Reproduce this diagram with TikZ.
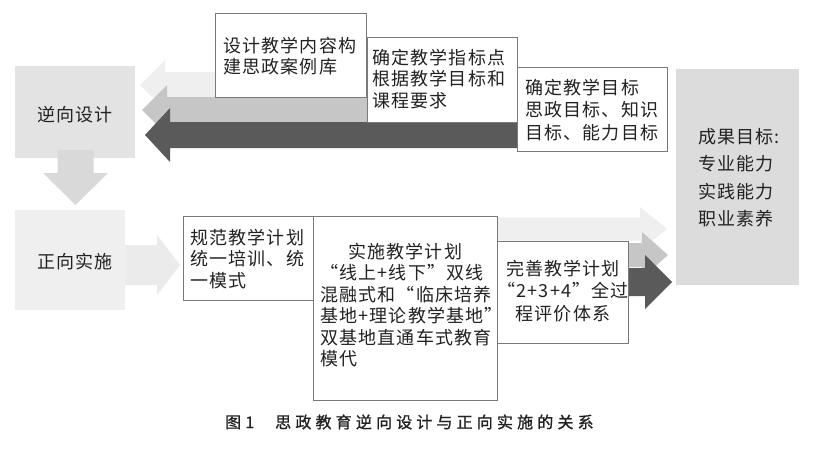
\documentclass[tikz,border=0pt]{standalone}
\usepackage{fontspec}
\newfontfamily\cjk[LetterSpace=6.5]{Noto Sans CJK SC}
\newfontfamily\capfont[LetterSpace=26,FakeBold=1.2]{Noto Sans CJK SC}
\definecolor{txtc}{HTML}{222222}
\definecolor{bord}{HTML}{7A7A7A}
\definecolor{nibox}{HTML}{E3E3E3}
\definecolor{zhbox}{HTML}{EFEFEF}
\definecolor{downc}{HTML}{D9D9D9}
\definecolor{zharr}{HTML}{EBEBEB}
\definecolor{lightc}{HTML}{EFEFEF}
\definecolor{medc}{HTML}{C6C6C6}
\definecolor{darkc}{HTML}{5A5A5A}
\definecolor{goalc}{HTML}{DCDCDC}
% left-pointing block arrow: colour, tip x, head back x, tail x, centre y, half shaft, half head
\newcommand\blockleft[7]{\fill[#1] (#2,#5) -- (#3,#5-#7) -- (#3,#5-#6) -- (#4,#5-#6) -- (#4,#5+#6) -- (#3,#5+#6) -- (#3,#5+#7) -- cycle;}
% right-pointing block arrow: colour, tail x, head back x, tip x, centre y, half shaft, half head
\newcommand\blockright[7]{\fill[#1] (#4,#5) -- (#3,#5-#7) -- (#3,#5-#6) -- (#2,#5-#6) -- (#2,#5+#6) -- (#3,#5+#6) -- (#3,#5+#7) -- cycle;}
\begin{document}
\begin{tikzpicture}[x=1pt,y=-1pt,
  wbox/.style={draw=bord, line width=0.8pt, fill=white, rectangle, inner sep=0pt, anchor=north west},
  gbox/.style={rectangle, inner sep=0pt, anchor=north west},
  txt/.style={font=\cjk\fontsize{18}{21.5}\selectfont, text=txtc, inner sep=0pt, align=left, anchor=north west},
  txtw/.style={font=\cjk\fontsize{18}{22.5}\selectfont, text=txtc, inner sep=0pt, align=left, anchor=north west}]
\useasboundingbox[fill=white] (0,0) rectangle (816,452);

% left column
\node[gbox, fill=nibox, minimum width=120pt, minimum height=92pt] (ni) at (15,66) {};
\node[font=\cjk\fontsize{18}{21.5}\selectfont, text=txtc, inner sep=0pt] (nit) at (75,115) {逆向设计};
\fill[downc] (57.5,150) -- (57.5,173) -- (43,173) -- (75.5,205) -- (108,173) -- (93.5,173) -- (93.5,150) -- cycle;
\node[gbox, fill=zhbox, minimum width=110pt, minimum height=100pt] (zh) at (15,210) {};
\node[font=\cjk\fontsize{18}{21.5}\selectfont, text=txtc, inner sep=0pt] (zht) at (75,262) {正向实施};
\blockright{zharr}{125}{157}{180}{265}{20}{30}

% top left-pointing arrows
\blockleft{lightc}{140}{165}{230}{85}{13}{25}
\blockleft{medc}{142}{167}{380}{110}{13}{25}
\blockleft{darkc}{145}{170}{530}{135}{13}{27}

% top boxes
\node[wbox, minimum width=151pt, minimum height=84pt] (b1) at (215,13) {};
\node[wbox, minimum width=150pt, minimum height=85pt] (b2) at (367,37) {};
\node[wbox, minimum width=150pt, minimum height=84pt] (b3) at (517,67) {};
\node[txt] (t1) at (223,37) {设计教学内容构\\建思政案例库};
\node[txt] (t2) at (372,49) {确定教学指标点\\根据教学目标和\\课程要求};
\node[txtw] (t3) at (525,79) {确定教学目标\\思政目标、知识\\目标、能力目标};

% goal box
\node[gbox, fill=goalc, minimum width=123pt, minimum height=216pt] (goal) at (676,69) {};
\node[font=\cjk\fontsize{18}{27.5}\selectfont, text=txtc, inner sep=0pt, align=left, anchor=north west] (goalt) at (698,128) {成果目标:\\专业能力\\实践能力\\职业素养};

% bottom right-pointing arrows
\blockright{lightc}{480}{640}{667}{229}{11.5}{22}
\blockright{medc}{600}{642}{668}{255}{12}{23}
\blockright{darkc}{600}{645}{672}{282}{14}{27}

% bottom boxes
\node[wbox, minimum width=130pt, minimum height=84pt] (c1) at (183,216) {};
\node[wbox, minimum width=184pt, minimum height=184pt] (c2) at (313,216) {};
\node[wbox, minimum width=131pt, minimum height=102pt] (c3) at (497,241) {};
\node[txt] (u1) at (190,229) {规范教学计划\\统一培训、统\\一模式};
\node[txt] (u2) at (320,243) {\hspace*{28pt}实施教学计划\\“线上+线下”双线\\混融式和“临床培养\\基地+理论教学基地”\\双基地直通车式教育\\模代};
\node[txtw, align=center, anchor=north] (u3) at (563,260) {完善教学计划\\“2+3+4”全过\\程评价体系};

% caption
\node[font=\capfont\fontsize{16}{19}\selectfont, text=txtc, inner sep=0pt, anchor=west] (cap) at (225,422) {图1\hspace{21pt}思政教育逆向设计与正向实施的关系};
\end{tikzpicture}
\end{document}
